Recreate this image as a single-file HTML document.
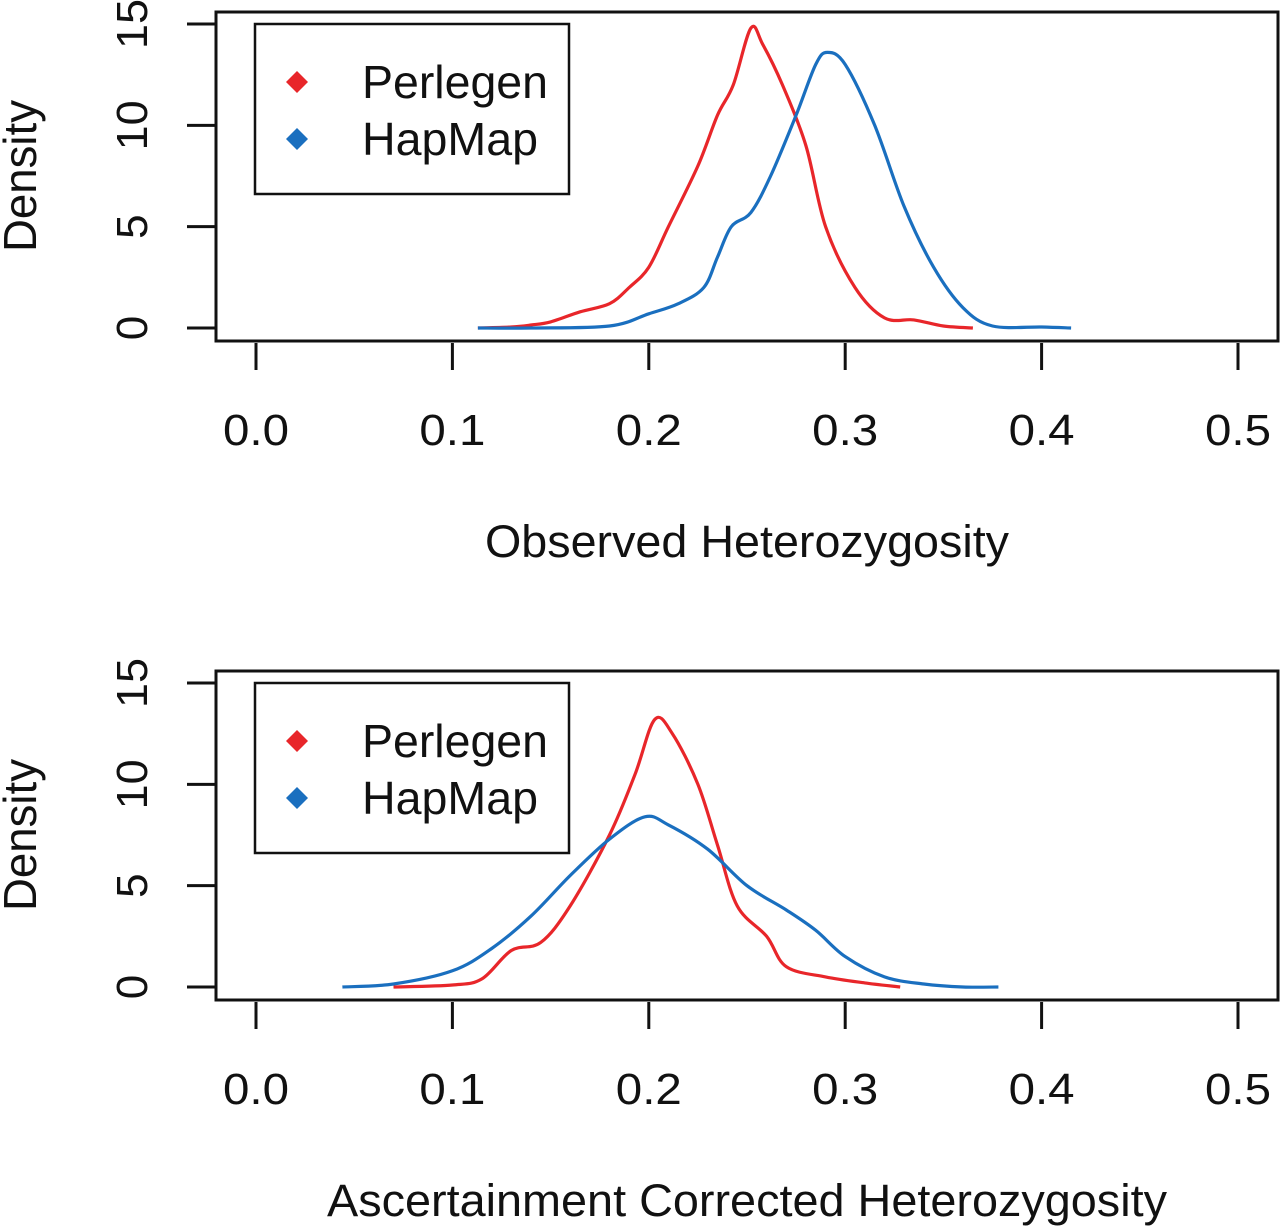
<!DOCTYPE html>
<html><head><meta charset="utf-8"><style>
html,body{margin:0;padding:0;background:#fff;}
svg{display:block;font-family:"Liberation Sans",Arial,sans-serif;}
</style></head><body>
<svg id="chart" width="1280" height="1226" viewBox="0 0 1280 1226"></svg>
<script>
const xTicks=[0.0,0.1,0.2,0.3,0.4,0.5];
const xTickLabels=["0.0","0.1","0.2","0.3","0.4","0.5"];
const yTicks=[0,5,10,15];
const yTickLabels=["0","5","10","15"];
const seriesNames=["Perlegen","HapMap"];
const seriesColors=["#e8262a","#1a6fbf"];
const obsPerlegenX=[0.113,0.13,0.14,0.15,0.165,0.18,0.19,0.2,0.21,0.225,0.235,0.243,0.252,0.258,0.268,0.28,0.29,0.305,0.32,0.335,0.35,0.365];
const obsPerlegenY=[0,0.05,0.15,0.3,0.8,1.2,2,3,5,8,10.5,12,14.8,14,12,9,5,2,0.5,0.4,0.1,0];
const obsHapmapX=[0.113,0.14,0.18,0.2,0.215,0.228,0.235,0.242,0.252,0.262,0.275,0.285,0.291,0.3,0.315,0.33,0.345,0.36,0.375,0.4,0.415];
const obsHapmapY=[0,0,0.1,0.7,1.2,2,3.5,5,5.7,7.5,10.5,13,13.6,13,10,6,3,1,0.1,0.05,0];
const acPerlegenX=[0.07,0.1,0.115,0.13,0.145,0.16,0.18,0.193,0.203,0.212,0.225,0.235,0.245,0.26,0.27,0.29,0.31,0.328];
const acPerlegenY=[0,0.1,0.4,1.8,2.2,4,7.5,10.5,13.2,12.5,10,7,4,2.5,1,0.5,0.2,0];
const acHapmapX=[0.044,0.07,0.1,0.12,0.14,0.16,0.18,0.198,0.21,0.23,0.25,0.27,0.285,0.3,0.32,0.34,0.36,0.378];
const acHapmapY=[0,0.15,0.8,1.9,3.5,5.5,7.3,8.4,8,6.8,5,3.8,2.8,1.5,0.5,0.15,0,0];

const NS="http://www.w3.org/2000/svg";
const svg=document.getElementById('chart');
function mk(tag,attrs,parent){const e=document.createElementNS(NS,tag);for(const k in attrs)e.setAttribute(k,attrs[k]);(parent||svg).appendChild(e);return e;}
function smooth(pts){let d="M"+pts[0][0]+","+pts[0][1];for(let i=0;i<pts.length-1;i++){const p0=pts[i-1]||pts[i],p1=pts[i],p2=pts[i+1],p3=pts[i+2]||p2;const c1=[p1[0]+(p2[0]-p0[0])/6,p1[1]+(p2[1]-p0[1])/6];const c2=[p2[0]-(p3[0]-p1[0])/6,p2[1]-(p3[1]-p1[1])/6];d+=" C"+c1.join(",")+" "+c2.join(",")+" "+p2.join(",");}return d;}

function panel(top,title,titleLen,series,prefix){
  const xs=v=>256+v*1964;
  const y0=top+316, y15=top+12;
  const ys=v=>y0+(y15-y0)*v/15;
  const g=mk('g',{});
  
  
  const box=mk('rect',{x:216,y:top,width:1062,height:329,fill:'none',stroke:'#111','stroke-width':3},g);
  
  
  yTicks.forEach((t,i)=>{
    const l=mk('line',{x1:187,x2:216,y1:ys(t),y2:ys(t),stroke:'#111','stroke-width':3},g);
    
    
    const attrs={x:147,y:ys(t),'font-size':44,'text-anchor':'middle',fill:'#111',transform:`rotate(-90 147 ${ys(t)})`};
    if(yTickLabels[i].length>1){attrs.textLength=50;attrs.lengthAdjust='spacingAndGlyphs';}
    const tx=mk('text',attrs,g);
    tx.textContent=yTickLabels[i];
    
    
  });
  xTicks.forEach((t,i)=>{
    const l=mk('line',{x1:xs(t),x2:xs(t),y1:top+331,y2:top+358,stroke:'#111','stroke-width':3},g);
    
    
    const tx=mk('text',{x:xs(t),y:top+433,'font-size':44,'text-anchor':'middle',fill:'#111',textLength:66,lengthAdjust:'spacingAndGlyphs'},g);
    tx.textContent=xTickLabels[i];
    
    
  });
  const yt=mk('text',{x:36,y:top+164,'font-size':46,'text-anchor':'middle',fill:'#111',textLength:152,lengthAdjust:'spacingAndGlyphs',transform:`rotate(-90 36 ${top+164})`},g);
  yt.textContent="Density";
  
  
  const xt=mk('text',{x:747,y:top+545,'font-size':45,'text-anchor':'middle',fill:'#111',textLength:titleLen,lengthAdjust:'spacingAndGlyphs'},g);
  xt.textContent=title;
  
  
  series.forEach((s,i)=>{
    const pts=s[0].map((v,j)=>[+xs(v).toFixed(1),+ys(s[1][j]).toFixed(1)]);
    const p=mk('path',{d:smooth(pts),fill:'none',stroke:seriesColors[i],'stroke-width':3.2,'stroke-linejoin':'round'},g);
    
    
  });
  const lg=mk('g',{},g);
  
  
  mk('rect',{x:255,y:top+12,width:314,height:170,fill:'#fff',stroke:'#111','stroke-width':2.5},lg);
  const legLens=[186,176];
  seriesNames.forEach((n,i)=>{
    const cy=top+70+i*57;
    const m=mk('path',{d:`M297,${cy-11} L308,${cy} L297,${cy+11} L286,${cy} Z`,fill:seriesColors[i]},lg);
    
    
    const t=mk('text',{x:362,y:cy+16,'font-size':46,fill:'#111',textLength:legLens[i],lengthAdjust:'spacingAndGlyphs'},lg);
    t.textContent=n;
    
    
  });
}
panel(12,"Observed Heterozygosity",524,[[obsPerlegenX,obsPerlegenY],[obsHapmapX,obsHapmapY]],'observed');
panel(671,"Ascertainment Corrected Heterozygosity",840,[[acPerlegenX,acPerlegenY],[acHapmapX,acHapmapY]],'corrected');
</script>
</body></html>
